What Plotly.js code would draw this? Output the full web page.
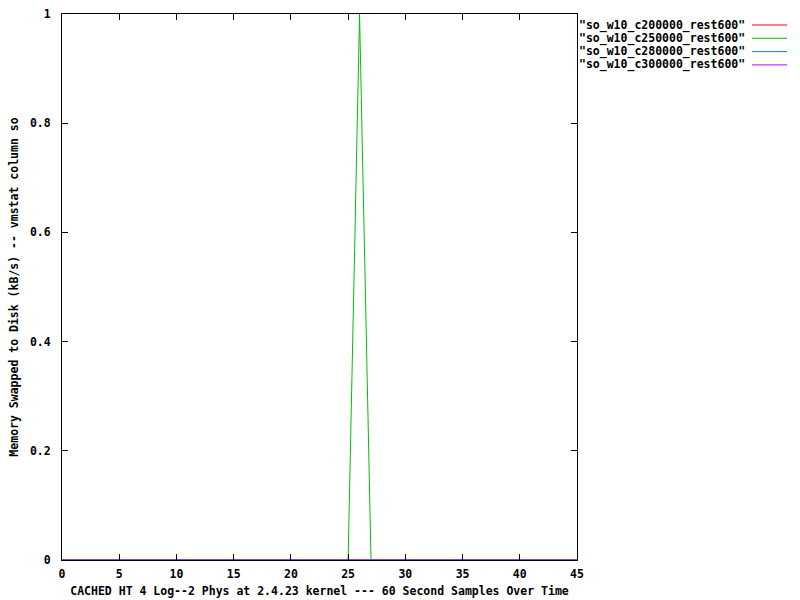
<!DOCTYPE html>
<html>
<head>
<meta charset="utf-8">
<script src="https://cdn.plot.ly/plotly-3.0.1.min.js"></script>
<style>html,body{margin:0;padding:0;background:#fff;}#chart{width:800px;height:600px;}</style>
</head>
<body>
<div id="chart"></div>
<script>
// Sample index (60 second samples)
var samples = [0,1,2,3,4,5,6,7,8,9,10,11,12,13,14,15,16,17,18,19,20,21,22,23,24,25,26,27,28,29,30,31,32,33,34,35,36,37,38,39,40,41,42,43,44,45];
var seriesNames = ['"so_w10_c200000_rest600"', '"so_w10_c250000_rest600"', '"so_w10_c280000_rest600"', '"so_w10_c300000_rest600"'];
var c200000 = [0,0,0,0,0,0,0,0,0,0,0,0,0,0,0,0,0,0,0,0,0,0,0,0,0,0,0,0,0,0,0,0,0,0,0,0,0,0,0,0,0,0,0,0,0,0];
var c250000 = [0,0,0,0,0,0,0,0,0,0,0,0,0,0,0,0,0,0,0,0,0,0,0,0,0,0,1,0,0,0,0,0,0,0,0,0,0,0,0,0,0,0,0,0,0,0];
var c280000 = [0,0,0,0,0,0,0,0,0,0,0,0,0,0,0,0,0,0,0,0,0,0,0,0,0,0,0,0,0,0,0,0,0,0,0,0,0,0,0,0,0,0,0,0,0,0];
var c300000 = [0,0,0,0,0,0,0,0,0,0,0,0,0,0,0,0,0,0,0,0,0,0,0,0,0,0,0,0,0,0,0,0,0,0,0,0,0,0,0,0,0,0,0,0,0,0];
var xTicks = [0,5,10,15,20,25,30,35,40,45];
var yTicks = [0,0.2,0.4,0.6,0.8,1];
var yTickLabels = ['0','0.2','0.4','0.6','0.8','1'];

var colors = ['#ff0000', '#00c000', '#0080ff', '#c000ff'];
var values = [c200000, c250000, c280000, c300000];

var W = 800, H = 600;
var mL = 62, mR = 223, mT = 14, mB = 40;
var plotW = W - mL - mR, plotH = H - mT - mB;
var bold = {family: 'DejaVu Sans Mono', size: 11.5, color: '#000', weight: 'bold'};

var traces = values.map(function(v, i){
  return {x: samples, y: v, type: 'scatter', mode: 'lines', name: seriesNames[i],
          line: {color: colors[i], width: 1}, showlegend: false, hoverinfo: 'none'};
});

// gnuplot-style key: text then line sample on the right
var annotations = [], shapes = [];
seriesNames.forEach(function(n, i){
  var py = 25 + i * 13.3;
  var yp = 1 - (py - mT) / plotH;
  annotations.push({xref: 'paper', yref: 'paper', x: (747 - mL) / plotW, y: yp,
    xanchor: 'right', yanchor: 'middle', text: n, showarrow: false, font: bold});
  shapes.push({type: 'line', xref: 'paper', yref: 'paper',
    x0: (752 - mL) / plotW, x1: (787 - mL) / plotW, y0: yp, y1: yp,
    line: {color: colors[i], width: 1}});
});

var axisCommon = {showgrid: false, zeroline: false, showline: true, linecolor: '#000', linewidth: 1,
  mirror: 'ticks', ticks: 'inside', ticklen: 6, tickcolor: '#000', tickwidth: 1,
  tickfont: bold};

var layout = {
  width: W, height: H,
  margin: {l: mL, r: mR, t: mT, b: mB, pad: 0},
  paper_bgcolor: '#fff', plot_bgcolor: '#fff',
  font: {family: 'DejaVu Sans Mono', size: 11.5, color: '#000'},
  xaxis: Object.assign({}, axisCommon, {range: [0, 45], tickmode: 'array', tickvals: xTicks,
    ticktext: xTicks.map(String), ticklabelstandoff: 3,
    title: {text: 'CACHED HT 4 Log--2 Phys at 2.4.23 kernel --- 60 Second Samples Over Time',
      font: bold, standoff: 7}}),
  yaxis: Object.assign({}, axisCommon, {range: [0, 1], tickmode: 'array', tickvals: yTicks,
    ticktext: yTickLabels, ticklabelstandoff: 8,
    title: {text: 'Memory Swapped to Disk (kB/s) -- vmstat column so',
      font: bold, standoff: 8}}),
  annotations: annotations,
  shapes: shapes,
  showlegend: false
};

Plotly.newPlot('chart', traces, layout, {displayModeBar: false, staticPlot: true});
</script>
</body>
</html>
